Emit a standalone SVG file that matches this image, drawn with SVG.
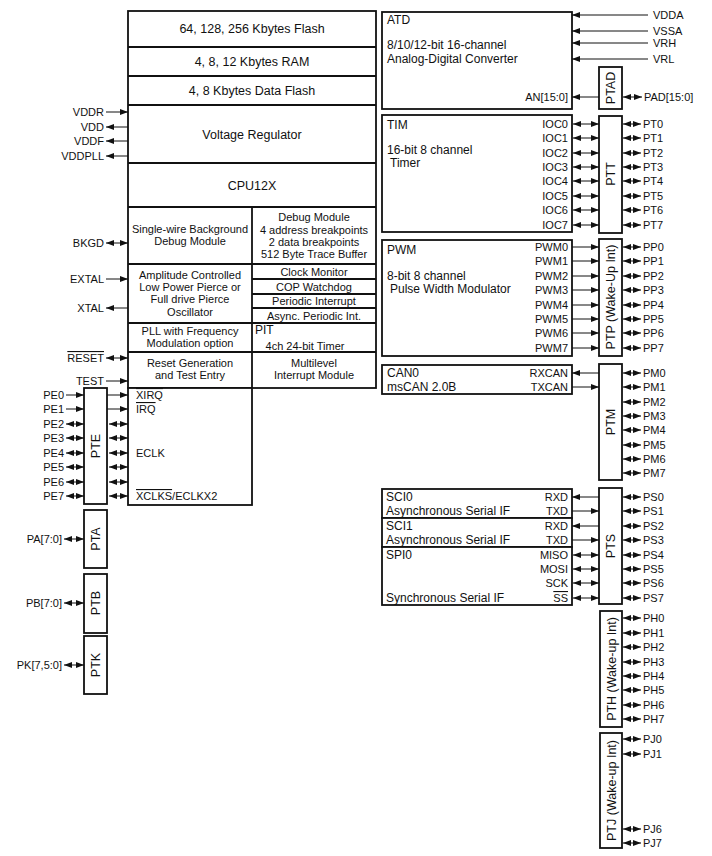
<svg xmlns="http://www.w3.org/2000/svg" width="712" height="856" viewBox="0 0 712 856">
<defs>
<marker id="ah" viewBox="0 0 8 6" refX="8" refY="3" markerWidth="8" markerHeight="6" markerUnits="userSpaceOnUse" orient="auto-start-reverse"><path d="M0,0 L8,3 L0,6 z" fill="#111"/></marker>
<style>
text{font-family:"Liberation Sans",Arial,sans-serif;fill:#111;font-size:11px}
.big{font-size:12.5px}
.m{text-anchor:middle}
.e{text-anchor:end}
.box{fill:#fff;stroke:#111;stroke-width:1.8}
.ln{fill:none;stroke:#111;stroke-width:1.8}
.a{stroke:#111;stroke-width:1;fill:none;marker-end:url(#ah)}
.d{stroke:#111;stroke-width:1;fill:none;marker-end:url(#ah);marker-start:url(#ah)}
.ol{text-decoration:overline}
</style>
</defs>

<g id="core">
<rect class="box" x="128" y="11" width="248" height="377"/>
<line class="ln" x1="128" y1="47" x2="376" y2="47"/>
<line class="ln" x1="128" y1="76" x2="376" y2="76"/>
<line class="ln" x1="128" y1="105" x2="376" y2="105"/>
<line class="ln" x1="128" y1="163" x2="376" y2="163"/>
<line class="ln" x1="128" y1="207" x2="376" y2="207"/>
<line class="ln" x1="252" y1="207" x2="252" y2="388"/>
<line class="ln" x1="128" y1="264" x2="376" y2="264"/>
<line class="ln" x1="252" y1="279" x2="376" y2="279"/>
<line class="ln" x1="252" y1="294" x2="376" y2="294"/>
<line class="ln" x1="252" y1="308" x2="376" y2="308"/>
<line class="ln" x1="128" y1="323" x2="376" y2="323"/>
<line class="ln" x1="128" y1="352" x2="376" y2="352"/>
<text class="big m" x="252" y="33">64, 128, 256 Kbytes Flash</text>
<text class="big m" x="252" y="66">4, 8, 12 Kbytes RAM</text>
<text class="big m" x="252" y="95">4, 8 Kbytes Data Flash</text>
<text class="big m" x="252" y="139">Voltage Regulator</text>
<text class="big m" x="252" y="190">CPU12X</text>
<text class="m" x="190" y="233">Single-wire Background</text>
<text class="m" x="190" y="245">Debug Module</text>
<text class="m" x="314" y="221">Debug Module</text>
<text class="m" x="314" y="234">4 address breakpoints</text>
<text class="m" x="314" y="246">2 data breakpoints</text>
<text class="m" x="314" y="258">512 Byte Trace Buffer</text>
<text class="m" x="190" y="279">Amplitude Controlled</text>
<text class="m" x="190" y="291">Low Power Pierce or</text>
<text class="m" x="190" y="303">Full drive Pierce</text>
<text class="m" x="190" y="316">Oscillator</text>
<text class="m" x="314" y="276">Clock Monitor</text>
<text class="m" x="314" y="291">COP Watchdog</text>
<text class="m" x="314" y="305">Periodic Interrupt</text>
<text class="m" x="314" y="320">Async. Periodic Int.</text>
<text class="m" x="190" y="335">PLL with Frequency</text>
<text class="m" x="190" y="347">Modulation option</text>
<text x="255" y="334" style="font-size:12px">PIT</text>
<text class="m" x="305" y="350">4ch 24-bit Timer</text>
<text class="m" x="190" y="367">Reset Generation</text>
<text class="m" x="190" y="379">and Test Entry</text>
<text class="m" x="314" y="367">Multilevel</text>
<text class="m" x="314" y="379">Interrupt Module</text>
</g>

<g id="lowbox">
<rect class="box" x="128" y="388" width="124" height="117"/>
<text class="ol" x="136" y="399">XIRQ</text>
<text class="ol" x="136" y="413">IRQ</text>
<text x="136" y="457">ECLK</text>
<text x="136" y="500"><tspan class="ol">XCLKS</tspan>/ECLKX2</text>
</g>

<g id="PTE">
<rect class="box" x="84" y="388" width="23" height="116"/>
<text class="big m" transform="translate(100,446) rotate(-90)">PTE</text>
</g>
<g id="PTA">
<rect class="box" x="84" y="510" width="23" height="58"/>
<text class="big m" transform="translate(100,539) rotate(-90)">PTA</text>
</g>
<g id="PTB">
<rect class="box" x="84" y="574" width="23" height="59"/>
<text class="big m" transform="translate(100,603) rotate(-90)">PTB</text>
</g>
<g id="PTK">
<rect class="box" x="84" y="636" width="23" height="58"/>
<text class="big m" transform="translate(100,665) rotate(-90)">PTK</text>
</g>

<g id="ATD">
<rect class="box" x="382" y="12" width="190" height="97"/>
<text x="387" y="24" style="font-size:12px">ATD</text>
<text x="387" y="49" style="font-size:12px">8/10/12-bit 16-channel</text>
<text x="387" y="63" style="font-size:12px">Analog-Digital Converter</text>
<text class="e" x="568" y="101">AN[15:0]</text>
</g>
<g id="PTAD">
<rect class="box" x="599" y="67" width="23" height="42"/>
<text class="big m" transform="translate(615,88) rotate(-90)">PTAD</text>
</g>

<g id="TIM">
<rect class="box" x="382" y="115" width="190" height="117"/>
<text x="387" y="129" style="font-size:12px">TIM</text>
<text x="387" y="154" style="font-size:12px">16-bit 8 channel</text>
<text x="390" y="167" style="font-size:12px">Timer</text>
<text class="e" x="568" y="128">IOC0</text>
<text class="e" x="568" y="142">IOC1</text>
<text class="e" x="568" y="157">IOC2</text>
<text class="e" x="568" y="171">IOC3</text>
<text class="e" x="568" y="185">IOC4</text>
<text class="e" x="568" y="200">IOC5</text>
<text class="e" x="568" y="214">IOC6</text>
<text class="e" x="568" y="229">IOC7</text>
</g>
<g id="PTT">
<rect class="box" x="599" y="116" width="23" height="117"/>
<text class="big m" transform="translate(615,174) rotate(-90)">PTT</text>
</g>

<g id="PWM">
<rect class="box" x="382" y="240" width="190" height="116"/>
<text x="387" y="254" style="font-size:12px">PWM</text>
<text x="387" y="280" style="font-size:12px">8-bit 8 channel</text>
<text x="390" y="293" style="font-size:12px">Pulse Width Modulator</text>
<text class="e" x="568" y="251">PWM0</text>
<text class="e" x="568" y="265">PWM1</text>
<text class="e" x="568" y="280">PWM2</text>
<text class="e" x="568" y="294">PWM3</text>
<text class="e" x="568" y="309">PWM4</text>
<text class="e" x="568" y="323">PWM5</text>
<text class="e" x="568" y="337">PWM6</text>
<text class="e" x="568" y="352">PWM7</text>
</g>
<g id="PTP">
<rect class="box" x="599" y="239" width="23" height="117"/>
<text class="big m" transform="translate(615,297) rotate(-90)">PTP (Wake-Up Int)</text>
</g>

<g id="CAN0">
<rect class="box" x="382" y="365" width="190" height="29"/>
<text x="387" y="377" style="font-size:12px">CAN0</text>
<text x="387" y="391" style="font-size:12px">msCAN 2.0B</text>
<text class="e" x="568" y="377">RXCAN</text>
<text class="e" x="568" y="391">TXCAN</text>
</g>
<g id="PTM">
<rect class="box" x="599" y="364" width="23" height="116"/>
<text class="big m" transform="translate(615,422) rotate(-90)">PTM</text>
</g>

<g id="SCI0">
<rect class="box" x="382" y="489" width="190" height="29"/>
<text x="386" y="501" style="font-size:12px">SCI0</text>
<text x="386" y="515" style="font-size:12px">Asynchronous Serial IF</text>
<text class="e" x="568" y="501">RXD</text>
<text class="e" x="568" y="515">TXD</text>
</g>
<g id="SCI1">
<rect class="box" x="382" y="518" width="190" height="29"/>
<text x="386" y="530" style="font-size:12px">SCI1</text>
<text x="386" y="544" style="font-size:12px">Asynchronous Serial IF</text>
<text class="e" x="568" y="530">RXD</text>
<text class="e" x="568" y="544">TXD</text>
</g>
<g id="SPI0">
<rect class="box" x="382" y="547" width="190" height="58"/>
<text x="386" y="559" style="font-size:12px">SPI0</text>
<text x="386" y="602" style="font-size:12px">Synchronous Serial IF</text>
<text class="e" x="568" y="559">MISO</text>
<text class="e" x="568" y="573">MOSI</text>
<text class="e" x="568" y="587">SCK</text>
<text class="e ol" x="568" y="602">SS</text>
</g>
<g id="PTS">
<rect class="box" x="599" y="488" width="23" height="116"/>
<text class="big m" transform="translate(615,546) rotate(-90)">PTS</text>
</g>

<g id="PTH">
<rect class="box" x="600" y="611" width="22" height="116"/>
<text class="big m" transform="translate(615.5,669) rotate(-90)">PTH (Wake-up Int)</text>
</g>
<g id="PTJ">
<rect class="box" x="600" y="733" width="22" height="115"/>
<text class="big m" transform="translate(615.5,790.5) rotate(-90)">PTJ (Wake-up Int)</text>
</g>

<g id="labels">
<text class="e" x="104" y="116">VDDR</text>
<text class="e" x="104" y="131">VDD</text>
<text class="e" x="104" y="145">VDDF</text>
<text class="e" x="104" y="160">VDDPLL</text>
<text class="e" x="104" y="247">BKGD</text>
<text class="e" x="104" y="283">EXTAL</text>
<text class="e" x="104" y="312">XTAL</text>
<text class="e ol" x="104" y="362">RESET</text>
<text class="e" x="104" y="385">TEST</text>
<text class="e" x="64" y="399">PE0</text>
<text class="e" x="64" y="413">PE1</text>
<text class="e" x="64" y="428">PE2</text>
<text class="e" x="64" y="442">PE3</text>
<text class="e" x="64" y="457">PE4</text>
<text class="e" x="64" y="471">PE5</text>
<text class="e" x="64" y="486">PE6</text>
<text class="e" x="64" y="500">PE7</text>
<text class="e" x="62" y="543">PA[7:0]</text>
<text class="e" x="62" y="607">PB[7:0]</text>
<text class="e" x="62" y="669">PK[7,5:0]</text>
<text x="653" y="19">VDDA</text>
<text x="653" y="35">VSSA</text>
<text x="653" y="47">VRH</text>
<text x="653" y="63">VRL</text>
<text x="644" y="101">PAD[15:0]</text>
<text x="643" y="128">PT0</text>
<text x="643" y="142">PT1</text>
<text x="643" y="157">PT2</text>
<text x="643" y="171">PT3</text>
<text x="643" y="185">PT4</text>
<text x="643" y="200">PT5</text>
<text x="643" y="214">PT6</text>
<text x="643" y="229">PT7</text>
<text x="643" y="251">PP0</text>
<text x="643" y="265">PP1</text>
<text x="643" y="280">PP2</text>
<text x="643" y="294">PP3</text>
<text x="643" y="309">PP4</text>
<text x="643" y="323">PP5</text>
<text x="643" y="337">PP6</text>
<text x="643" y="352">PP7</text>
<text x="643" y="377">PM0</text>
<text x="643" y="391">PM1</text>
<text x="643" y="406">PM2</text>
<text x="643" y="420">PM3</text>
<text x="643" y="434">PM4</text>
<text x="643" y="449">PM5</text>
<text x="643" y="463">PM6</text>
<text x="643" y="477">PM7</text>
<text x="643" y="501">PS0</text>
<text x="643" y="515">PS1</text>
<text x="643" y="530">PS2</text>
<text x="643" y="544">PS3</text>
<text x="643" y="559">PS4</text>
<text x="643" y="573">PS5</text>
<text x="643" y="587">PS6</text>
<text x="643" y="602">PS7</text>
<text x="643" y="622">PH0</text>
<text x="643" y="637">PH1</text>
<text x="643" y="651">PH2</text>
<text x="643" y="666">PH3</text>
<text x="643" y="680">PH4</text>
<text x="643" y="694">PH5</text>
<text x="643" y="709">PH6</text>
<text x="643" y="723">PH7</text>
<text x="643" y="743">PJ0</text>
<text x="643" y="758">PJ1</text>
<text x="643" y="833">PJ6</text>
<text x="643" y="847">PJ7</text>
</g>

<g id="connectors">
<line class="a" x1="106" y1="112" x2="128" y2="112"/>
<line class="a" x1="128" y1="127" x2="106" y2="127"/>
<line class="a" x1="128" y1="141" x2="106" y2="141"/>
<line class="a" x1="128" y1="156" x2="106" y2="156"/>
<line class="d" x1="106" y1="243" x2="128" y2="243"/>
<line class="a" x1="106" y1="279" x2="128" y2="279"/>
<line class="a" x1="128" y1="308" x2="106" y2="308"/>
<line class="d" x1="106" y1="358" x2="128" y2="358"/>
<line class="a" x1="106" y1="381" x2="128" y2="381"/>
<line class="a" x1="66" y1="395" x2="84" y2="395"/>
<line class="a" x1="66" y1="409" x2="84" y2="409"/>
<line class="d" x1="66" y1="424" x2="84" y2="424"/>
<line class="d" x1="66" y1="438" x2="84" y2="438"/>
<line class="d" x1="66" y1="453" x2="84" y2="453"/>
<line class="d" x1="66" y1="467" x2="84" y2="467"/>
<line class="d" x1="66" y1="482" x2="84" y2="482"/>
<line class="d" x1="66" y1="496" x2="84" y2="496"/>
<line class="a" x1="107" y1="395" x2="128" y2="395"/>
<line class="a" x1="107" y1="409" x2="128" y2="409"/>
<line class="d" x1="109" y1="424" x2="128" y2="424"/>
<line class="d" x1="109" y1="438" x2="128" y2="438"/>
<line class="d" x1="109" y1="453" x2="128" y2="453"/>
<line class="d" x1="109" y1="467" x2="128" y2="467"/>
<line class="d" x1="109" y1="482" x2="128" y2="482"/>
<line class="d" x1="109" y1="496" x2="128" y2="496"/>
<line class="d" x1="64" y1="539" x2="84" y2="539"/>
<line class="d" x1="64" y1="603" x2="84" y2="603"/>
<line class="d" x1="64" y1="665" x2="84" y2="665"/>
<line class="a" x1="648" y1="15" x2="572" y2="15"/>
<line class="a" x1="648" y1="31" x2="572" y2="31"/>
<line class="a" x1="648" y1="43" x2="572" y2="43"/>
<line class="a" x1="648" y1="59" x2="572" y2="59"/>
<line class="a" x1="599" y1="97" x2="572" y2="97"/>
<line class="d" x1="623" y1="97" x2="642" y2="97"/>
<g id="tim-ptt">
<line class="d" x1="573" y1="124" x2="599" y2="124"/>
<line class="d" x1="573" y1="138" x2="599" y2="138"/>
<line class="d" x1="573" y1="153" x2="599" y2="153"/>
<line class="d" x1="573" y1="167" x2="599" y2="167"/>
<line class="d" x1="573" y1="181" x2="599" y2="181"/>
<line class="d" x1="573" y1="196" x2="599" y2="196"/>
<line class="d" x1="573" y1="210" x2="599" y2="210"/>
<line class="d" x1="573" y1="225" x2="599" y2="225"/>
<line class="d" x1="623" y1="124" x2="641" y2="124"/>
<line class="d" x1="623" y1="138" x2="641" y2="138"/>
<line class="d" x1="623" y1="153" x2="641" y2="153"/>
<line class="d" x1="623" y1="167" x2="641" y2="167"/>
<line class="d" x1="623" y1="181" x2="641" y2="181"/>
<line class="d" x1="623" y1="196" x2="641" y2="196"/>
<line class="d" x1="623" y1="210" x2="641" y2="210"/>
<line class="d" x1="623" y1="225" x2="641" y2="225"/>
</g>
<g id="pwm-ptp">
<line class="a" x1="572" y1="247" x2="599" y2="247"/>
<line class="a" x1="572" y1="261" x2="599" y2="261"/>
<line class="a" x1="572" y1="276" x2="599" y2="276"/>
<line class="a" x1="572" y1="290" x2="599" y2="290"/>
<line class="a" x1="572" y1="305" x2="599" y2="305"/>
<line class="a" x1="572" y1="319" x2="599" y2="319"/>
<line class="a" x1="572" y1="333" x2="599" y2="333"/>
<line class="a" x1="572" y1="348" x2="599" y2="348"/>
<line class="d" x1="623" y1="247" x2="641" y2="247"/>
<line class="d" x1="623" y1="261" x2="641" y2="261"/>
<line class="d" x1="623" y1="276" x2="641" y2="276"/>
<line class="d" x1="623" y1="290" x2="641" y2="290"/>
<line class="d" x1="623" y1="305" x2="641" y2="305"/>
<line class="d" x1="623" y1="319" x2="641" y2="319"/>
<line class="d" x1="623" y1="333" x2="641" y2="333"/>
<line class="d" x1="623" y1="348" x2="641" y2="348"/>
</g>
<g id="can-ptm">
<line class="a" x1="599" y1="373" x2="572" y2="373"/>
<line class="a" x1="572" y1="387" x2="599" y2="387"/>
<line class="d" x1="623" y1="373" x2="641" y2="373"/>
<line class="d" x1="623" y1="387" x2="641" y2="387"/>
<line class="d" x1="623" y1="402" x2="641" y2="402"/>
<line class="d" x1="623" y1="416" x2="641" y2="416"/>
<line class="d" x1="623" y1="430" x2="641" y2="430"/>
<line class="d" x1="623" y1="445" x2="641" y2="445"/>
<line class="d" x1="623" y1="459" x2="641" y2="459"/>
<line class="d" x1="623" y1="473" x2="641" y2="473"/>
</g>
<g id="sci-pts">
<line class="a" x1="599" y1="497" x2="572" y2="497"/>
<line class="a" x1="572" y1="511" x2="599" y2="511"/>
<line class="a" x1="599" y1="526" x2="572" y2="526"/>
<line class="a" x1="572" y1="540" x2="599" y2="540"/>
<line class="d" x1="573" y1="555" x2="599" y2="555"/>
<line class="d" x1="573" y1="569" x2="599" y2="569"/>
<line class="d" x1="573" y1="583" x2="599" y2="583"/>
<line class="d" x1="573" y1="598" x2="599" y2="598"/>
<line class="d" x1="623" y1="497" x2="641" y2="497"/>
<line class="d" x1="623" y1="511" x2="641" y2="511"/>
<line class="d" x1="623" y1="526" x2="641" y2="526"/>
<line class="d" x1="623" y1="540" x2="641" y2="540"/>
<line class="d" x1="623" y1="555" x2="641" y2="555"/>
<line class="d" x1="623" y1="569" x2="641" y2="569"/>
<line class="d" x1="623" y1="583" x2="641" y2="583"/>
<line class="d" x1="623" y1="598" x2="641" y2="598"/>
</g>
<g id="pth">
<line class="d" x1="623" y1="618" x2="641" y2="618"/>
<line class="d" x1="623" y1="633" x2="641" y2="633"/>
<line class="d" x1="623" y1="647" x2="641" y2="647"/>
<line class="d" x1="623" y1="662" x2="641" y2="662"/>
<line class="d" x1="623" y1="676" x2="641" y2="676"/>
<line class="d" x1="623" y1="690" x2="641" y2="690"/>
<line class="d" x1="623" y1="705" x2="641" y2="705"/>
<line class="d" x1="623" y1="719" x2="641" y2="719"/>
</g>
<g id="ptj">
<line class="d" x1="623" y1="739" x2="641" y2="739"/>
<line class="d" x1="623" y1="754" x2="641" y2="754"/>
<line class="d" x1="623" y1="829" x2="641" y2="829"/>
<line class="d" x1="623" y1="843" x2="641" y2="843"/>
</g>
</g>
</svg>
